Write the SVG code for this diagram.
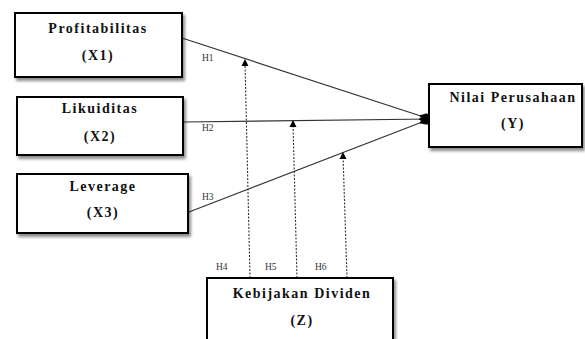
<svg xmlns="http://www.w3.org/2000/svg" width="585" height="339" viewBox="0 0 585 339">
<defs>
<filter id="sh" x="-10%" y="-10%" width="130%" height="140%">
<feDropShadow dx="2" dy="3" stdDeviation="1.5" flood-color="#000" flood-opacity="0.45"/>
</filter>
<marker id="dia" viewBox="0 0 12 10" refX="11.5" refY="5" markerWidth="12" markerHeight="10" markerUnits="userSpaceOnUse" orient="auto">
<path d="M0,5 L7,0.5 L12,5 L7,9.5 Z" fill="#000"/>
</marker>
</defs>
<style>
.box{fill:#fff;stroke:#000;stroke-width:2;filter:url(#sh)}
.t{font-family:'Liberation Serif','DejaVu Serif','Times New Roman',serif;font-weight:bold;font-size:14px;letter-spacing:1.5px;text-anchor:middle;fill:#111}
.h{font-family:'Liberation Serif','DejaVu Serif',serif;font-size:9.5px;fill:#333}
.ln{stroke:#333;stroke-width:1.2;fill:none}
.dl{stroke:#333;stroke-width:1.1;stroke-dasharray:2,1.5;fill:none}
</style>
<rect width="585" height="339" fill="#fff"/>
<g id="connectors">
<line class="ln" x1="182" y1="38" x2="430" y2="119" marker-end="url(#dia)"/>
<line class="ln" x1="184" y1="122" x2="430" y2="119" marker-end="url(#dia)"/>
<line class="ln" x1="189" y1="212" x2="430" y2="119" marker-end="url(#dia)"/>
<line class="dl" x1="250" y1="278" x2="245" y2="62"/>
<path d="M241.5,66 L245,59 L248.5,66 Z" fill="#000"/>
<line class="dl" x1="297" y1="278" x2="293" y2="123"/>
<path d="M289.5,127 L293,120 L296.5,127 Z" fill="#000"/>
<line class="dl" x1="347" y1="278" x2="343" y2="155"/>
<path d="M339.5,159 L343,152 L346.5,159 Z" fill="#000"/>
<text class="h" x="202" y="61">H1</text>
<text class="h" x="202" y="131">H2</text>
<text class="h" x="202" y="200">H3</text>
<text class="h" x="216" y="270">H4</text>
<text class="h" x="265" y="270">H5</text>
<text class="h" x="315" y="270">H6</text>
</g>
<g id="x1">
<rect class="box" x="15" y="13" width="167" height="64"/>
<text class="t" x="98" y="33">Profitabilitas</text>
<text class="t" x="98" y="60">(X1)</text>
</g>
<g id="x2">
<rect class="box" x="17" y="97" width="166" height="58"/>
<text class="t" x="100" y="113">Likuiditas</text>
<text class="t" x="100" y="141">(X2)</text>
</g>
<g id="x3">
<rect class="box" x="17" y="174" width="171" height="59"/>
<text class="t" x="103" y="191">Leverage</text>
<text class="t" x="103" y="217">(X3)</text>
</g>
<g id="y">
<rect class="box" x="429" y="84" width="153" height="63"/>
<text class="t" x="513" y="102">Nilai Perusahaan</text>
<text class="t" x="513" y="128">(Y)</text>
</g>
<g id="z">
<rect class="box" x="207" y="278" width="186" height="70"/>
<text class="t" x="302" y="298">Kebijakan Dividen</text>
<text class="t" x="302" y="325">(Z)</text>
</g>
</svg>
